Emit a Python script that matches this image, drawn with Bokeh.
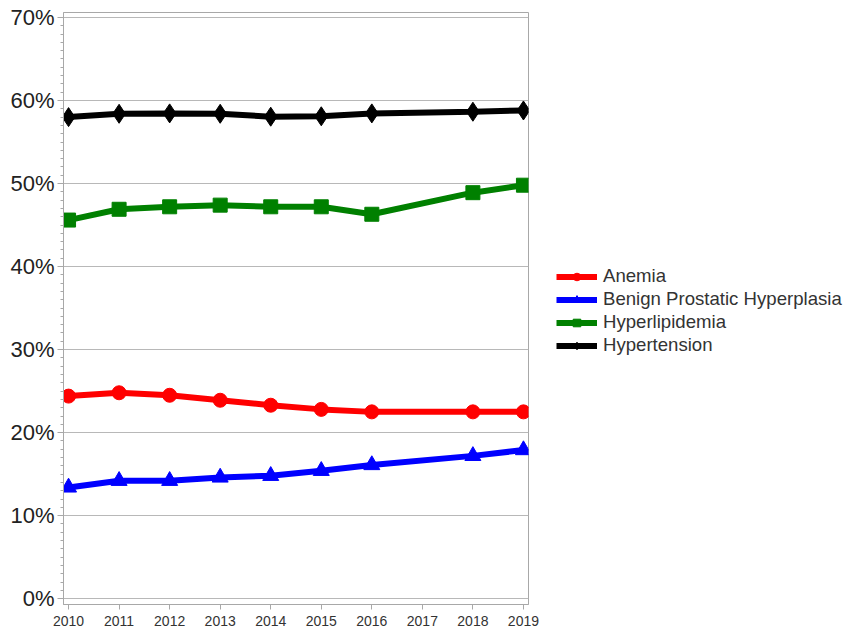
from bokeh.plotting import figure
from bokeh.layouts import row
from bokeh.models import (ColumnDataSource, Legend, LegendItem, Range1d,
                          FixedTicker, PrintfTickFormatter)
from bokeh.embed import file_html
from bokeh.resources import INLINE

years = [2010, 2011, 2012, 2013, 2014, 2015, 2016, 2018, 2019]
anemia = [24.4, 24.8, 24.5, 23.9, 23.3, 22.8, 22.5, 22.5, 22.5]
bph = [13.4, 14.2, 14.2, 14.6, 14.8, 15.4, 16.1, 17.2, 17.9]
hyperlipidemia = [45.6, 46.9, 47.2, 47.4, 47.2, 47.2, 46.3, 48.9, 49.8]
hypertension = [58.0, 58.4, 58.45, 58.4, 58.05, 58.1, 58.45, 58.65, 58.8]

series_names = ["Anemia", "Benign Prostatic Hyperplasia", "Hyperlipidemia", "Hypertension"]
series_vals = [anemia, bph, hyperlipidemia, hypertension]
colors = ["#ff0000", "#0000ff", "#008000", "#000000"]
markers = ["circle", "triangle", "square", "diamond"]
sizes = [14, 16, 14, 19]

x_ticks = list(range(2010, 2020))
y_ticks = [0, 10, 20, 30, 40, 50, 60, 70]

FONT = "Liberation Sans"
GRAY = "#a8a8a8"

# main chart
p = figure(width=545, height=635, output_backend="svg", toolbar_location=None,
           x_range=Range1d(2009.9, 2019.1), y_range=Range1d(-0.7, 70.6),
           min_border_left=63, min_border_top=12, min_border_bottom=31,
           min_border_right=17)

p.outline_line_color = GRAY
p.outline_line_width = 1
p.xgrid.grid_line_color = None
p.ygrid.grid_line_color = "#b8b8b8"
p.ygrid.ticker = FixedTicker(ticks=y_ticks)

xa = p.xaxis[0]
xa.ticker = FixedTicker(ticks=x_ticks)
xa.axis_line_color = GRAY
xa.major_tick_line_color = GRAY
xa.major_tick_in = 0
xa.major_tick_out = 5
xa.minor_tick_line_color = None
xa.major_label_text_font = FONT
xa.major_label_text_font_size = "14px"
xa.major_label_text_color = "#333333"
xa.major_label_standoff = 6

ya = p.yaxis[0]
ya.ticker = FixedTicker(ticks=y_ticks, minor_ticks=list(range(0, 71)))
ya.formatter = PrintfTickFormatter(format="%d%%")
ya.axis_line_color = GRAY
ya.major_tick_line_color = GRAY
ya.minor_tick_line_color = GRAY
ya.major_tick_in = 0
ya.major_tick_out = 6
ya.minor_tick_in = 0
ya.minor_tick_out = 3
ya.major_label_text_font = FONT
ya.major_label_text_font_size = "22px"
ya.major_label_text_color = "#222222"
ya.major_label_standoff = 3

for name, vals, c, m, s in zip(series_names, series_vals, colors, markers, sizes):
    src = ColumnDataSource(dict(x=years, y=vals))
    p.line("x", "y", source=src, line_color=c, line_width=6)
    p.scatter("x", "y", source=src, marker=m, size=s, fill_color=c, line_color=c)

# legend panel (its renderers hold data outside the visible range)
q = figure(width=299, height=635, output_backend="svg", toolbar_location=None,
           x_range=Range1d(0, 1), y_range=Range1d(0, 1),
           min_border_left=0, min_border_right=0, min_border_top=0, min_border_bottom=0)
q.axis.visible = False
q.grid.grid_line_color = None
q.outline_line_color = None

items = []
for name, c, m, s in zip(series_names, colors, markers, sizes):
    src = ColumnDataSource(dict(x=[5, 6], y=[5, 6]))
    lr = q.line("x", "y", source=src, line_color=c, line_width=6)
    sr = q.scatter("x", "y", source=src, marker=m, size=s, fill_color=c, line_color=c)
    items.append(LegendItem(label=name, renderers=[lr, sr]))

legend = Legend(items=items, location=(11, 248))
legend.border_line_color = None
legend.background_fill_alpha = 0
legend.label_text_font = FONT
legend.label_text_font_size = "18.6px"
legend.label_text_color = "#333333"
legend.glyph_width = 41
legend.glyph_height = 19
legend.label_height = 19
legend.spacing = 1
legend.padding = 0
legend.margin = 0
legend.label_standoff = 6
q.add_layout(legend, "center")

layout = row(p, q, spacing=0)
open("out.html", "w").write(file_html(layout, INLINE))
